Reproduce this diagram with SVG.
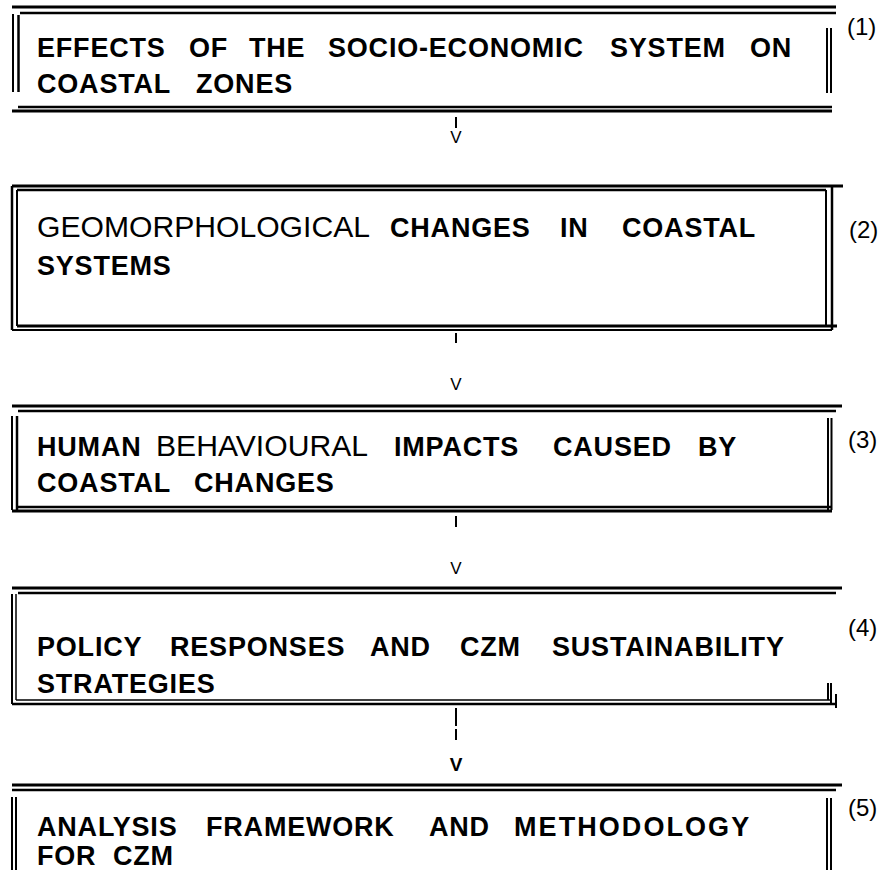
<svg xmlns="http://www.w3.org/2000/svg" width="892" height="870" viewBox="0 0 892 870">
<style>
.b{font-family:"Liberation Sans",Arial,sans-serif;font-weight:bold;font-size:27px;letter-spacing:0.8px;fill:#000}
.r{font-family:"Liberation Sans",Arial,sans-serif;font-weight:normal;font-size:29px;fill:#000}
.n{font-family:"Liberation Sans",Arial,sans-serif;font-size:24px;fill:#000}
.v{font-family:"Liberation Sans",Arial,sans-serif;font-size:17px;fill:#000;text-anchor:middle}
.vb{font-family:"Liberation Sans",Arial,sans-serif;font-size:19px;font-weight:bold;fill:#000;text-anchor:middle}
.t{stroke:#000;stroke-width:3;fill:none}
.m{stroke:#000;stroke-width:2.5;fill:none}
.s{stroke:#000;stroke-width:2;fill:none}
.h{stroke:#000;stroke-width:1.5;fill:none}
</style>
<rect width="892" height="870" fill="#fff"/>
<g id="node1">
<line class="t" x1="12" y1="7" x2="836" y2="7"/>
<line class="m" x1="20" y1="13" x2="836" y2="13"/>
<line class="s" x1="13" y1="14" x2="13" y2="92"/>
<line class="m" x1="18.5" y1="15" x2="18.5" y2="92"/>
<line class="s" x1="827" y1="28" x2="827" y2="93"/>
<line class="s" x1="831" y1="28" x2="831" y2="93"/>
<line class="m" x1="18" y1="107" x2="832" y2="107"/>
<line class="t" x1="12" y1="111" x2="832" y2="111"/>
<text class="b" y="57"><tspan x="37">EFFECTS</tspan><tspan x="189">OF</tspan><tspan x="249">THE</tspan><tspan x="328">SOCIO-ECONOMIC</tspan><tspan x="610">SYSTEM</tspan><tspan x="750">ON</tspan></text>
<text class="b" y="93"><tspan x="37">COASTAL</tspan><tspan x="196">ZONES</tspan></text>
<text class="n" x="847" y="35">(1)</text>
</g>
<g id="node2">
<line class="t" x1="12" y1="186" x2="843" y2="186"/>
<line class="m" x1="17" y1="190" x2="826" y2="190"/>
<line class="m" x1="12" y1="186" x2="12" y2="330"/>
<line class="s" x1="17" y1="190" x2="17" y2="326"/>
<line class="s" x1="826" y1="190" x2="826" y2="327"/>
<line class="m" x1="832" y1="186" x2="832" y2="330"/>
<line class="t" x1="17" y1="326" x2="837" y2="326"/>
<line class="s" x1="12" y1="330" x2="832" y2="330"/>
<text y="237"><tspan class="r" x="37" textLength="333" lengthAdjust="spacingAndGlyphs">GEOMORPHOLOGICAL</tspan><tspan class="b" x="390">CHANGES</tspan><tspan class="b" x="560">IN</tspan><tspan class="b" x="622">COASTAL</tspan></text>
<text class="b" x="37" y="275">SYSTEMS</text>
<text class="n" x="849" y="238">(2)</text>
</g>
<g id="node3">
<line class="t" x1="12" y1="406" x2="842" y2="406"/>
<line class="m" x1="18" y1="411" x2="836" y2="411"/>
<line class="s" x1="12" y1="416" x2="12" y2="510"/>
<line class="m" x1="17" y1="416" x2="17" y2="510"/>
<line class="s" x1="828" y1="418" x2="828" y2="510"/>
<line class="s" x1="831.5" y1="418" x2="831.5" y2="510"/>
<line class="m" x1="18" y1="507" x2="832" y2="507"/>
<line class="t" x1="12" y1="511" x2="832" y2="511"/>
<text y="456"><tspan class="b" x="37">HUMAN</tspan><tspan class="r" x="156" textLength="212" lengthAdjust="spacingAndGlyphs">BEHAVIOURAL</tspan><tspan class="b" x="394">IMPACTS</tspan><tspan class="b" x="553">CAUSED</tspan><tspan class="b" x="698">BY</tspan></text>
<text class="b" y="492"><tspan x="37">COASTAL</tspan><tspan x="194">CHANGES</tspan></text>
<text class="n" x="848" y="448">(3)</text>
</g>
<g id="node4">
<line class="t" x1="12" y1="588" x2="842" y2="588"/>
<line class="m" x1="18" y1="593" x2="836" y2="593"/>
<line class="s" x1="12" y1="594" x2="12" y2="704"/>
<line class="h" x1="16" y1="594" x2="16" y2="700"/>
<line class="s" x1="828" y1="683" x2="828" y2="700"/>
<line class="s" x1="831" y1="683" x2="831" y2="703"/>
<line class="s" x1="836" y1="694" x2="836" y2="708"/>
<line class="h" x1="16" y1="700" x2="832" y2="700"/>
<line class="m" x1="12" y1="704" x2="837" y2="704"/>
<text class="b" y="656"><tspan x="37">POLICY</tspan><tspan x="170">RESPONSES</tspan><tspan x="370">AND</tspan><tspan x="460">CZM</tspan><tspan x="552">SUSTAINABILITY</tspan></text>
<text class="b" x="37" y="693">STRATEGIES</text>
<text class="n" x="848" y="636">(4)</text>
</g>
<g id="node5">
<line class="t" x1="12" y1="785" x2="842" y2="785"/>
<line class="m" x1="12" y1="790" x2="836" y2="790"/>
<line class="s" x1="12" y1="797" x2="12" y2="870"/>
<line class="s" x1="16" y1="797" x2="16" y2="870"/>
<line class="s" x1="827" y1="798" x2="827" y2="870"/>
<line class="s" x1="831" y1="798" x2="831" y2="870"/>
<text class="b" y="836"><tspan x="37">ANALYSIS</tspan><tspan x="206">FRAMEWORK</tspan><tspan x="429">AND</tspan><tspan x="514" textLength="236">METHODOLOGY</tspan></text>
<text class="b" y="865"><tspan x="37">FOR</tspan><tspan x="113">CZM</tspan></text>
<text class="n" x="848" y="816">(5)</text>
</g>
<g id="connectors">
<line class="s" x1="456" y1="117" x2="456" y2="128"/>
<text class="v" x="456" y="143">V</text>
<line class="s" x1="456" y1="333" x2="456" y2="343"/>
<text class="v" x="456" y="390">V</text>
<line class="s" x1="456" y1="516" x2="456" y2="527"/>
<text class="v" x="456" y="574">V</text>
<line class="s" x1="456" y1="708" x2="456" y2="726"/>
<line class="s" x1="456" y1="729" x2="456" y2="740"/>
<text class="vb" x="456" y="771">V</text>
</g>
</svg>
